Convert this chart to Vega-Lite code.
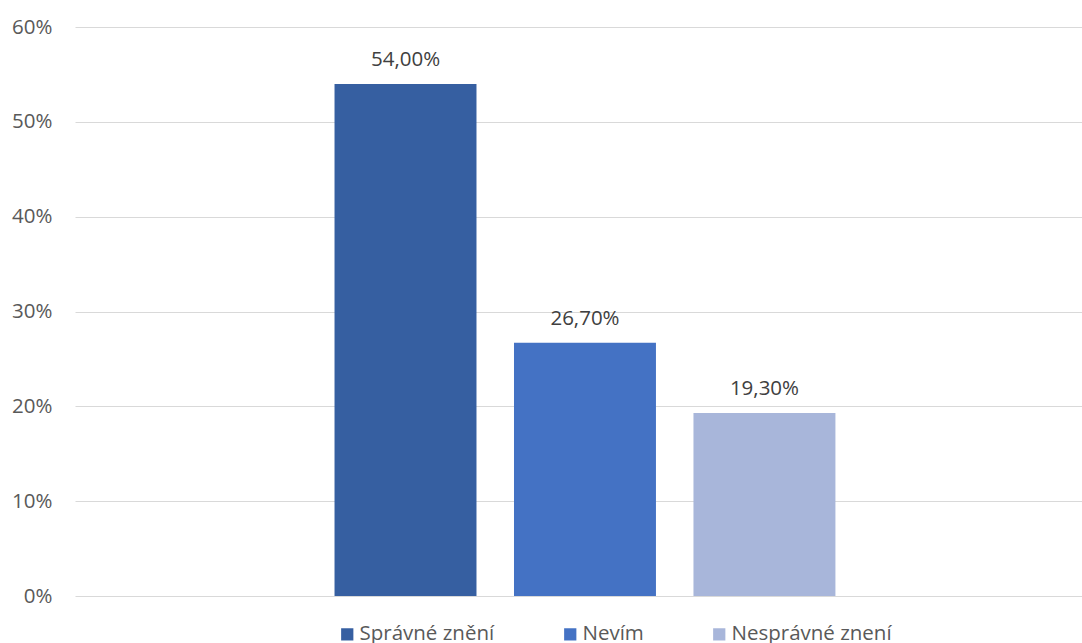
{
  "$schema": "https://vega.github.io/schema/vega-lite/v6.json",
  "width": 1007,
  "height": 569,
  "autosize": {"type": "none"},
  "padding": {"left": 75, "top": 27, "right": 0, "bottom": 47},
  "background": "white",
  "config": {
    "view": {"stroke": null},
    "font": "Open Sans",
    "locale": {
      "number": {"decimal": ",", "thousands": " ", "grouping": [3], "currency": ["", " Kč"], "percent": "%"}
    }
  },
  "data": {
    "values": [
      {"odpoved": "Správné znění", "podil": 0.54},
      {"odpoved": "Nevím", "podil": 0.267},
      {"odpoved": "Nesprávné znení", "podil": 0.193}
    ]
  },
  "encoding": {
    "x": {
      "field": "odpoved",
      "type": "nominal",
      "scale": {
        "domain": ["_l", "Správné znění", "Nevím", "Nesprávné znení", "_r"],
        "paddingInner": 0.209,
        "paddingOuter": 0.41,
        "align": 0.544
      },
      "axis": null
    },
    "y": {
      "field": "podil",
      "type": "quantitative",
      "scale": {"domain": [0, 0.6]},
      "axis": {
        "title": null,
        "format": ".0%",
        "values": [0, 0.1, 0.2, 0.3, 0.4, 0.5, 0.6],
        "domain": false,
        "ticks": false,
        "labelPadding": 23,
        "labelFontSize": 20.5,
        "labelColor": "#595959",
        "gridColor": "#D9D9D9",
        "gridWidth": 1.2
      }
    }
  },
  "layer": [
    {
      "mark": {"type": "bar"},
      "encoding": {
        "color": {
          "field": "odpoved",
          "type": "nominal",
          "scale": {
            "domain": ["Správné znění", "Nevím", "Nesprávné znení"],
            "range": ["#365FA1", "#4472C4", "#A8B6DA"]
          },
          "legend": {
            "title": null,
            "orient": "none",
            "direction": "horizontal",
            "legendX": 262,
            "legendY": 597,
            "symbolType": "square",
            "symbolSize": 150,
            "symbolStrokeWidth": 0,
            "labelFontSize": 20.5,
            "labelColor": "#595959",
            "labelOffset": 2,
            "labelLimit": 300,
            "columnPadding": 65
          }
        }
      }
    },
    {
      "mark": {"type": "text", "baseline": "alphabetic", "dy": -18, "fontSize": 20.5, "color": "#404040"},
      "encoding": {
        "text": {"field": "podil", "type": "quantitative", "format": ".2%"}
      }
    }
  ]
}
